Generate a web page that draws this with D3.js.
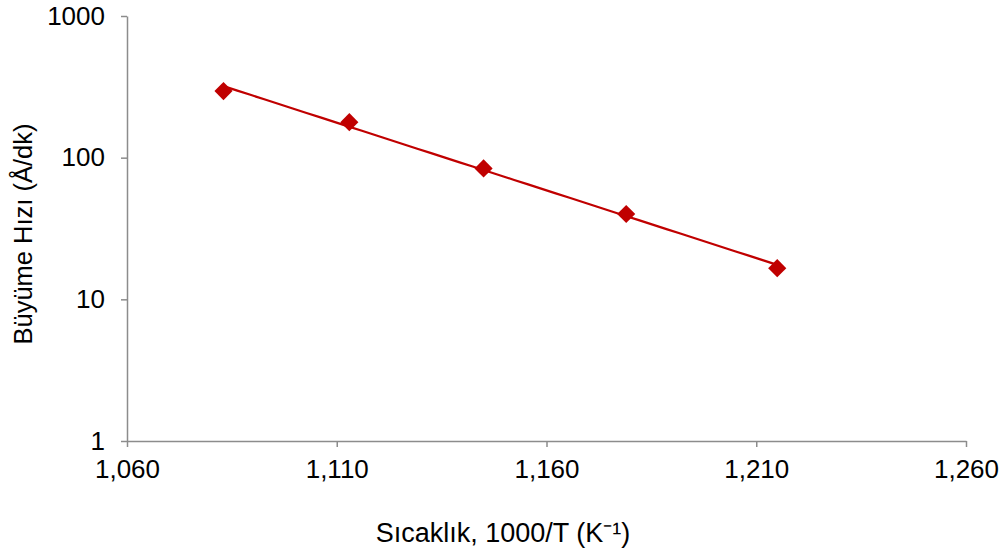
<!DOCTYPE html>
<html>
<head>
<meta charset="utf-8">
<script src="https://cdn.jsdelivr.net/npm/d3@7"></script>
<style>
  html, body { margin: 0; padding: 0; background: #fff; }
  svg { display: block; font-family: "Liberation Sans", Arial, sans-serif; }
</style>
</head>
<body>
<svg id="chart" width="1006" height="554"></svg>
<script>
// Growth rate vs. inverse temperature (550–650 °C)
const invTemp = [1.083, 1.113, 1.145, 1.179, 1.215];   // 1000/T (K^-1)
const growthRate = [295, 178, 84, 40, 16.6];           // Å/dk
const xTicks = [1.060, 1.110, 1.160, 1.210, 1.260];
const yTicks = [1, 10, 100, 1000];

const svg = d3.select("#chart");
const plotL = 127, plotR = 966, plotT = 16, plotB = 441;
const color = "#C00000", axisColor = "#8c8c8c";

const x = d3.scaleLinear().domain([1.060, 1.260]).range([plotL, plotR]);
const y = d3.scaleLog().domain([1, 1000]).range([plotB, plotT]);

const fmtX = v => d3.format(".3f")(v).replace(".", ",");

// X axis
const gx = svg.append("g").attr("transform", `translate(0,${plotB})`)
  .call(d3.axisBottom(x).tickValues(xTicks).tickFormat(fmtX).tickSizeInner(6).tickSizeOuter(0).tickPadding(8));
// Y axis
const gy = svg.append("g").attr("transform", `translate(${plotL},0)`)
  .call(d3.axisLeft(y).tickValues(yTicks).tickFormat(d3.format("d")).tickSizeInner(6).tickSizeOuter(0).tickPadding(16));

[gx, gy].forEach(g => {
  g.select(".domain").attr("stroke", axisColor).attr("stroke-width", 1.5);
  g.selectAll(".tick line").attr("stroke", axisColor).attr("stroke-width", 1.5);
  g.selectAll(".tick text").attr("fill", "#000").style("font-size", "26px")
    .style("font-family", "'Liberation Sans', Arial, sans-serif");
});
gx.selectAll(".tick text").attr("dy", "0.9em");

// Exponential trendline fitted in log space
const ly = growthRate.map(v => Math.log(v));
const mx = d3.mean(invTemp), my = d3.mean(ly);
const slope = d3.sum(invTemp.map((v, i) => (v - mx) * (ly[i] - my))) /
              d3.sum(invTemp.map(v => (v - mx) ** 2));
const icpt = my - slope * mx;
const xr = d3.extent(invTemp);
const trend = d3.range(0, 41).map(i => {
  const xv = xr[0] + (xr[1] - xr[0]) * i / 40;
  return [xv, Math.exp(icpt + slope * xv)];
});
svg.append("path")
  .datum(trend)
  .attr("fill", "none")
  .attr("stroke", color)
  .attr("stroke-width", 2.2)
  .attr("d", d3.line().x(d => x(d[0])).y(d => y(d[1])));

// Data markers
const diamond = d3.symbol().type(d3.symbolDiamond2).size(210);
svg.append("g").selectAll("path")
  .data(invTemp.map((v, i) => [v, growthRate[i]]))
  .join("path")
  .attr("transform", d => `translate(${x(d[0])},${y(d[1])})`)
  .attr("d", diamond)
  .attr("fill", color);

// Axis titles
svg.append("text")
  .attr("x", 503).attr("y", 542)
  .attr("text-anchor", "middle")
  .style("font-size", "27px")
  .text("Sıcaklık, 1000/T (K⁻¹)");

svg.append("text")
  .attr("transform", `translate(32,234) rotate(-90)`)
  .attr("text-anchor", "middle")
  .style("font-size", "25.5px")
  .text("Büyüme Hızı (Å/dk)");
</script>
</body>
</html>
